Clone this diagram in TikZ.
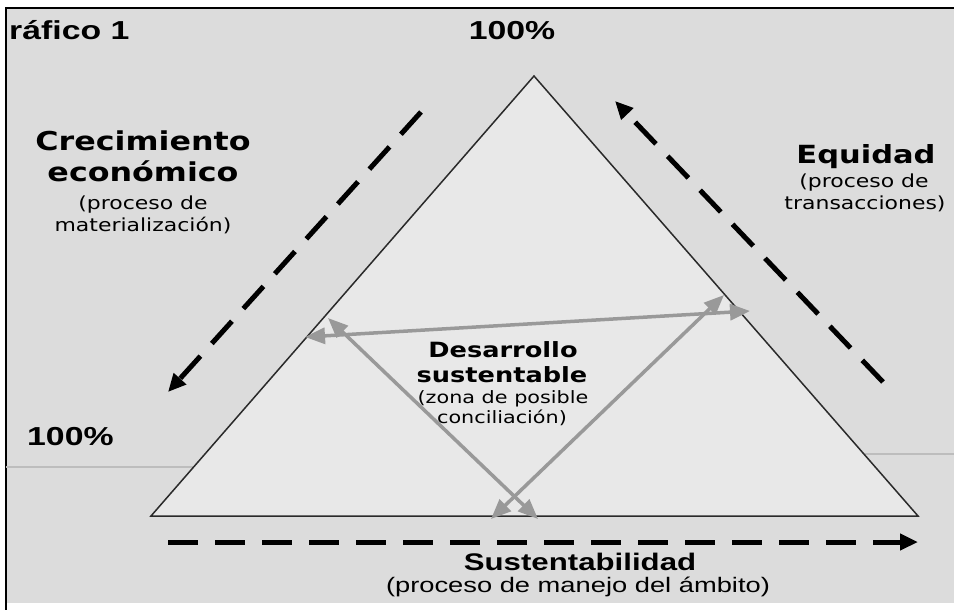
\documentclass[tikz,border=0pt]{standalone}
\usepackage{fontspec}
\setmainfont{Liberation Sans}
\newfontfamily\arialx[FakeStretch=1.3]{Liberation Sans}
\newfontfamily\verdx[FakeStretch=1.22]{DejaVu Sans}
\usetikzlibrary{arrows.meta}
\definecolor{bggray}{HTML}{DCDCDC}
\definecolor{trifill}{HTML}{E8E8E8}
\definecolor{arrgray}{HTML}{999999}
\definecolor{rulegray}{HTML}{BDBDBD}
\definecolor{triline}{HTML}{2A2A2A}
\tikzset{
  dasharrow/.style={line width=5pt, dash pattern=on 30pt off 17pt, -{Triangle[length=18pt,width=16pt]}},
  grayarrow/.style={arrgray, line width=3.5pt, {Triangle[length=20pt,width=16pt]}-{Triangle[length=20pt,width=16pt]}},
  arialtxt/.style={inner sep=0pt, anchor=base, font=\arialx},
  verdtxt/.style={inner sep=0pt, anchor=base, font=\verdx},
}
\begin{document}
\begin{tikzpicture}[x=1pt,y=-1pt]
\useasboundingbox (0,0) rectangle (954,610);
\fill[white] (0,0) rectangle (954,610);
\fill[bggray] (6,8) rectangle (954,603);
\draw[line width=2.5pt] (6,610) -- (6,8) -- (954,8);
% ground lines
\draw[rulegray, line width=1.5pt] (6,467) -- (220,467);
\draw[rulegray, line width=1.5pt] (840,454) -- (954,454);
% triangle
\coordinate (A) at (534,76);
\coordinate (B) at (151,516);
\coordinate (C) at (918,516);
\draw[fill=trifill, draw=triline, line width=1.5pt] (A) -- (B) -- (C) -- cycle;
% inner gray arrows
\coordinate (h1) at (305,337);
\coordinate (h2) at (750,311);
\coordinate (d1) at (328,318);
\coordinate (d2) at (538,519);
\coordinate (e1) at (724,295);
\coordinate (e2) at (491,519);
\draw[grayarrow] (h1) -- (h2);
\draw[grayarrow] (d1) -- (d2);
\draw[grayarrow] (e1) -- (e2);
% dashed arrows
\coordinate (ls) at (421,112);
\coordinate (le) at (168,392);
\coordinate (rs) at (883,382);
\coordinate (re) at (615,101);
\coordinate (bs) at (168,542);
\coordinate (be) at (918,542);
\draw[dasharrow] (ls) -- (le);
\draw[dasharrow] (rs) -- (re);
\draw[dasharrow] (bs) -- (be);
% texts
\node[arialtxt, anchor=base west, font=\arialx\bfseries\fontsize{26}{28}\selectfont] (title) at (9,40) {ráfico 1};
\node[arialtxt, font=\arialx\bfseries\fontsize{26}{28}\selectfont] (ptop) at (512,40) {100\%};
\node[arialtxt, anchor=base west, font=\arialx\bfseries\fontsize{26}{28}\selectfont] (pleft) at (27,445) {100\%};
\node[verdtxt, font=\verdx\bfseries\fontsize{26}{28}\selectfont] (cr1) at (143,150) {Crecimiento};
\node[verdtxt, font=\verdx\bfseries\fontsize{26}{28}\selectfont] (cr2) at (143,181) {económico};
\node[verdtxt, font=\verdx\fontsize{18}{20}\selectfont] (cr3) at (143,209) {(proceso de};
\node[verdtxt, font=\verdx\fontsize{18}{20}\selectfont] (cr4) at (143,231) {materialización)};
\node[verdtxt, font=\verdx\bfseries\fontsize{25}{27}\selectfont] (eq1) at (866,163) {Equidad};
\node[verdtxt, font=\verdx\fontsize{18}{20}\selectfont] (eq2) at (864,187) {(proceso de};
\node[verdtxt, font=\verdx\fontsize{18}{20}\selectfont] (eq3) at (865,209) {transacciones)};
\node[verdtxt, font=\verdx\bfseries\fontsize{21}{23}\selectfont] (ds1) at (503,357) {Desarrollo};
\node[verdtxt, font=\verdx\bfseries\fontsize{21}{23}\selectfont] (ds2) at (502,382) {sustentable};
\node[verdtxt, font=\verdx\fontsize{17}{19}\selectfont] (ds3) at (503,403) {(zona de posible};
\node[verdtxt, font=\verdx\fontsize{17}{19}\selectfont] (ds4) at (502,423) {conciliación)};
\node[arialtxt, font=\arialx\bfseries\fontsize{24}{26}\selectfont] (su1) at (580,570) {Sustentabilidad};
\node[arialtxt, font=\arialx\fontsize{21}{23}\selectfont] (su2) at (578,592) {(proceso de manejo del ámbito)};
\end{tikzpicture}
\end{document}
